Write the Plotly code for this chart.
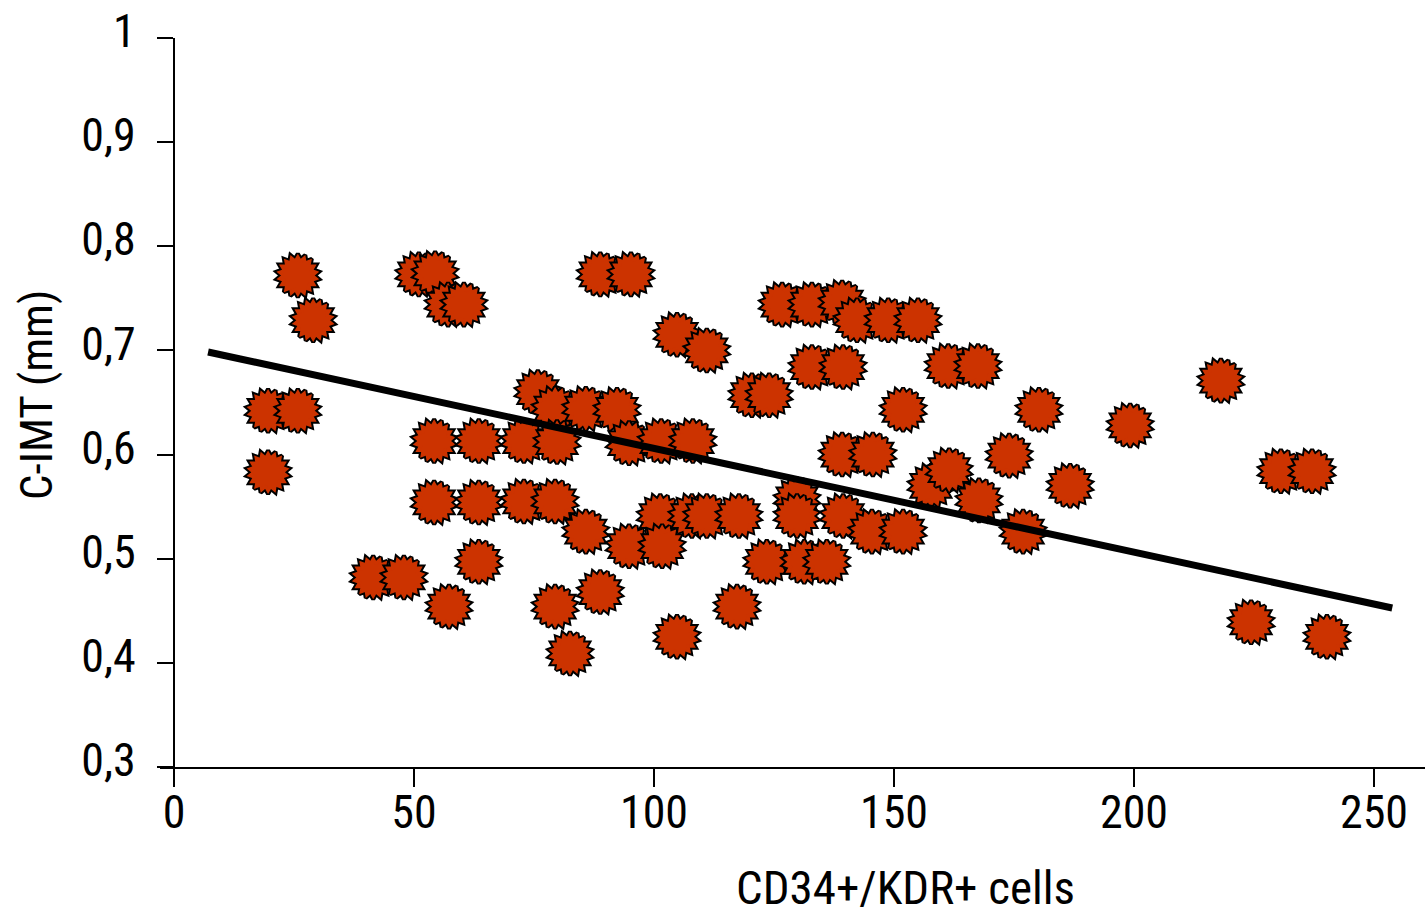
import plotly.graph_objects as go

# ---- data ----
cells = [19.6, 25.8, 19.6, 25.8, 29.0, 41.5, 47.9, 51.0, 54.4, 57.1,
         60.4, 54.2, 54.2, 57.3, 63.5, 63.5, 63.5, 72.9, 72.9, 75.8,
         79.4, 79.8, 79.4, 79.4, 82.5, 85.8, 85.8, 88.8, 88.8, 92.3,
         95.2, 94.8, 94.8, 101.5, 101.3, 101.7, 104.8, 104.8, 108.1, 107.9,
         111.0, 111.0, 117.7, 117.3, 120.4, 124.0, 123.5, 126.7, 129.8, 129.8,
         132.9, 132.9, 131.3, 136.0, 139.2, 139.4, 139.2, 139.4, 142.3, 145.4,
         145.6, 148.8, 151.9, 151.9, 155.0, 157.7, 161.3, 161.5, 167.5, 167.7,
         174.0, 176.9, 180.2, 186.7, 199.2, 218.1, 224.4, 230.6, 237.1, 240.2]
cimt = [0.642, 0.642, 0.583, 0.772, 0.729, 0.482, 0.482, 0.773, 0.774, 0.744,
        0.744, 0.613, 0.554, 0.454, 0.613, 0.554, 0.497, 0.613, 0.555, 0.660,
        0.644, 0.612, 0.555, 0.454, 0.409, 0.644, 0.526, 0.773, 0.468, 0.643,
        0.773, 0.611, 0.512, 0.613, 0.541, 0.512, 0.715, 0.425, 0.613, 0.541,
        0.700, 0.541, 0.541, 0.454, 0.657, 0.657, 0.497, 0.744, 0.557, 0.541,
        0.744, 0.684, 0.497, 0.497, 0.746, 0.684, 0.600, 0.541, 0.729, 0.526,
        0.600, 0.729, 0.643, 0.526, 0.729, 0.570, 0.685, 0.585, 0.685, 0.556,
        0.599, 0.526, 0.643, 0.570, 0.628, 0.671, 0.439, 0.584, 0.584, 0.425]

# regression line (two end points)
fit_cells = [7.1, 253.8]
fit_cimt = [0.6985, 0.4527]

x_ticks = [0, 50, 100, 150, 200, 250]
x_tick_labels = ["0", "50", "100", "150", "200", "250"]
y_ticks = [0.3, 0.4, 0.5, 0.6, 0.7, 0.8, 0.9, 1.0]
y_tick_labels = ["0,3", "0,4", "0,5", "0,6", "0,7", "0,8", "0,9", "1"]

# ---- styling ----
FONT = "Noto Sans Condensed, Roboto Condensed, Liberation Sans Narrow, Liberation Sans, sans-serif"
STAR_RED = "#CC3300"
ANGLES = [0, 20, 40]  # three rotated hexagrams -> 18-point star
STAR_SIZE = 33

# build stacked markers: black outline layer then red fill layer, per point
mx, my, mcol, mang, mlw = [], [], [], [], []
for x, y in zip(cells, cimt):
    for layer in ("edge", "fill"):
        for a in ANGLES:
            mx.append(x)
            my.append(y)
            mang.append(a)
            if layer == "edge":
                mcol.append("black")
                mlw.append(4)
            else:
                mcol.append(STAR_RED)
                mlw.append(0)

fig = go.Figure()
fig.add_trace(go.Scatter(
    x=mx, y=my, mode="markers", hoverinfo="skip",
    marker=dict(symbol="hexagram", size=STAR_SIZE, color=mcol, angle=mang,
                line=dict(color="black", width=mlw)),
))
fig.add_trace(go.Scatter(
    x=fit_cells, y=fit_cimt, mode="lines", hoverinfo="skip",
    line=dict(color="black", width=7),
))

fig.update_layout(
    width=1427, height=918,
    margin=dict(l=160, r=2, t=38, b=151),
    paper_bgcolor="white", plot_bgcolor="white",
    showlegend=False,
    font=dict(family=FONT, color="black"),
    xaxis=dict(
        range=[-2.917, 260.625],
        tickvals=x_ticks, ticktext=x_tick_labels,
        ticks="outside", ticklen=18, tickwidth=2, tickcolor="black",
        showline=True, linecolor="black", linewidth=2,
        showgrid=False, zeroline=False,
        tickfont=dict(size=46, family=FONT),
        ticklabelstandoff=-14,
    ),
    yaxis=dict(
        range=[0.3, 1.0], anchor="free", position=0.01107,
        tickvals=y_ticks, ticktext=y_tick_labels,
        ticks="outside", ticklen=16, tickwidth=2, tickcolor="black",
        showline=True, linecolor="black", linewidth=2,
        showgrid=False, zeroline=False,
        tickfont=dict(size=46, family=FONT),
        ticklabelstandoff=12,
        ticklabelshift=-7,
    ),
    annotations=[
        dict(text="CD34+/KDR+ cells", xref="paper", yref="paper",
             x=0.589, y=-0.165, xanchor="center", yanchor="middle",
             showarrow=False, font=dict(size=47, family=FONT)),
        dict(text="C-IMT (mm)", xref="paper", yref="paper",
             x=-0.0972, y=0.5103, xanchor="center", yanchor="middle",
             textangle=-90, showarrow=False, font=dict(size=45, family=FONT)),
    ],
)

fig.write_html("out.html")
